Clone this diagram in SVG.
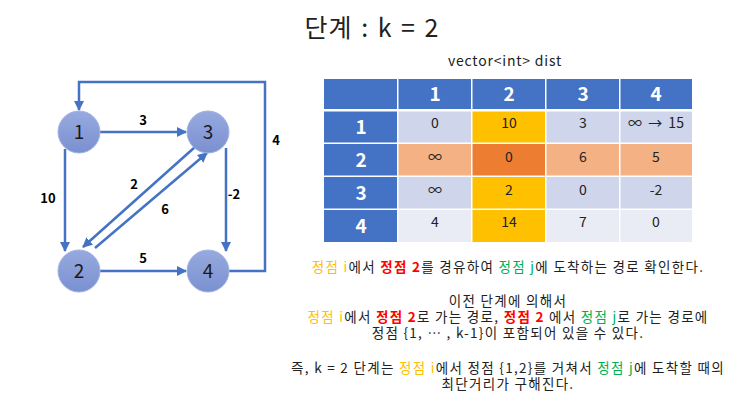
<svg xmlns="http://www.w3.org/2000/svg" width="743" height="418" viewBox="0 0 743 418">
<defs>
<linearGradient id="ng" x1="0" y1="0" x2="0" y2="1">
<stop offset="0" stop-color="#97AADF"/>
<stop offset="1" stop-color="#7A90D0"/>
</linearGradient>
<marker id="ah" viewBox="0 0 10 10" refX="9" refY="5" markerWidth="4" markerHeight="4" orient="auto" markerUnits="strokeWidth">
<path d="M0,0 L10,5 L0,10 z" fill="#4472C4"/>
</marker>
<style>
text{font-family:"Noto Sans CJK KR","Liberation Sans",sans-serif;}
.edge{fill:none;stroke:#4472C4;stroke-width:2.5;marker-end:url(#ah);}
.node circle{fill:url(#ng);stroke:#A3B4E2;stroke-width:1;}
.nl{font-size:19px;fill:#1a1a1a;text-anchor:middle;}
.el{font-size:13px;font-weight:bold;fill:#000;text-anchor:middle;}
.hd{fill:#4472C4;}
.ht{font-size:19px;font-weight:bold;fill:#fff;text-anchor:middle;}
.ct{font-size:14px;fill:#222;text-anchor:middle;}
.bt{font-size:13.5px;fill:#222;text-anchor:middle;letter-spacing:1.3px;}
.y{fill:#FFC000;}
.r{fill:#FF0000;font-weight:bold;}
.g{fill:#00B050;}
</style>
</defs>
<rect width="743" height="418" fill="#fff"/>
<text x="372" y="37" font-size="25" fill="#222" text-anchor="middle" letter-spacing="1" word-spacing="2">단계 : k = 2</text>

<g id="connectors">
<path class="edge" d="M100,132 H186"/>
<path class="edge" d="M65,149 V251"/>
<path class="edge" d="M226,148 V251"/>
<path class="edge" d="M100,271 H186"/>
<path class="edge" d="M195,147 L83,247"/>
<path class="edge" d="M95,248 L207,153"/>
<path class="edge" d="M229,271 H265 V82 H79 V110"/>
</g>
<g id="edge-labels">
<text class="el" x="143" y="125">3</text>
<text class="el" x="48" y="203">10</text>
<text class="el" x="234" y="199">-2</text>
<text class="el" x="276" y="145">4</text>
<text class="el" x="134" y="189">2</text>
<text class="el" x="165" y="214">6</text>
<text class="el" x="143" y="263">5</text>
</g>
<g id="node1" class="node"><circle cx="79" cy="132" r="21"/><text class="nl" x="79" y="139">1</text></g>
<g id="node3" class="node"><circle cx="208" cy="132" r="21"/><text class="nl" x="208" y="139">3</text></g>
<g id="node2" class="node"><circle cx="79" cy="271" r="21"/><text class="nl" x="79" y="278">2</text></g>
<g id="node4" class="node"><circle cx="208" cy="271" r="21"/><text class="nl" x="208" y="278">4</text></g>

<text x="505" y="66" font-size="14" fill="#222" text-anchor="middle" letter-spacing="0.8">vector&lt;int&gt; dist</text>

<g id="table">
<rect x="324" y="79" width="368" height="163" fill="#fff"/>
<rect class="hd" x="324" y="79" width="73" height="30"/>
<rect class="hd" x="398.5" y="79" width="72.5" height="30"/>
<rect class="hd" x="472.5" y="79" width="72.5" height="30"/>
<rect class="hd" x="546.5" y="79" width="72.5" height="30"/>
<rect class="hd" x="620.5" y="79" width="71.5" height="30"/>
<rect class="hd" x="324" y="111.5" width="73" height="31"/>
<rect class="hd" x="324" y="144" width="73" height="31.5"/>
<rect class="hd" x="324" y="177" width="73" height="31.5"/>
<rect class="hd" x="324" y="210" width="73" height="32"/>
<rect x="398.5" y="111.5" width="72.5" height="31" fill="#CFD5EA"/>
<rect x="472.5" y="111.5" width="72.5" height="31" fill="#FFC000"/>
<rect x="546.5" y="111.5" width="72.5" height="31" fill="#CFD5EA"/>
<rect x="620.5" y="111.5" width="71.5" height="31" fill="#CFD5EA"/>
<rect x="398.5" y="144" width="72.5" height="31.5" fill="#F4B183"/>
<rect x="472.5" y="144" width="72.5" height="31.5" fill="#ED7D31"/>
<rect x="546.5" y="144" width="72.5" height="31.5" fill="#F4B183"/>
<rect x="620.5" y="144" width="71.5" height="31.5" fill="#F4B183"/>
<rect x="398.5" y="177" width="72.5" height="31.5" fill="#CFD5EA"/>
<rect x="472.5" y="177" width="72.5" height="31.5" fill="#FFC000"/>
<rect x="546.5" y="177" width="72.5" height="31.5" fill="#CFD5EA"/>
<rect x="620.5" y="177" width="71.5" height="31.5" fill="#CFD5EA"/>
<rect x="398.5" y="210" width="72.5" height="32" fill="#E9EBF5"/>
<rect x="472.5" y="210" width="72.5" height="32" fill="#FFC000"/>
<rect x="546.5" y="210" width="72.5" height="32" fill="#E9EBF5"/>
<rect x="620.5" y="210" width="71.5" height="32" fill="#E9EBF5"/>

<text class="ht" x="435" y="101">1</text>
<text class="ht" x="509" y="101">2</text>
<text class="ht" x="583" y="101">3</text>
<text class="ht" x="656" y="101">4</text>
<text class="ht" x="361" y="134">1</text>
<text class="ht" x="361" y="167">2</text>
<text class="ht" x="361" y="200">3</text>
<text class="ht" x="361" y="233">4</text>

<text class="ct" x="435" y="128">0</text>
<text class="ct" x="509" y="128">10</text>
<text class="ct" x="583" y="128">3</text>
<text class="ct" x="656" y="128" word-spacing="3">∞ → 15</text>
<text class="ct" x="435" y="162">∞</text>
<text class="ct" x="509" y="162">0</text>
<text class="ct" x="583" y="162">6</text>
<text class="ct" x="656" y="162">5</text>
<text class="ct" x="435" y="195">∞</text>
<text class="ct" x="509" y="195">2</text>
<text class="ct" x="583" y="195">0</text>
<text class="ct" x="656" y="195">-2</text>
<text class="ct" x="435" y="227">4</text>
<text class="ct" x="509" y="227">14</text>
<text class="ct" x="583" y="227">7</text>
<text class="ct" x="656" y="227">0</text>
</g>

<g id="notes">
<text class="bt" x="508" y="272"><tspan class="y">정점 i</tspan>에서 <tspan class="r">정점 2</tspan>를 경유하여 <tspan class="g">정점 j</tspan>에 도착하는 경로 확인한다.</text>
<text class="bt" x="508" y="306">이전 단계에 의해서</text>
<text class="bt" x="508" y="322"><tspan class="y">정점 i</tspan>에서 <tspan class="r">정점 2</tspan>로 가는 경로, <tspan class="r">정점 2</tspan> 에서 <tspan class="g">정점 j</tspan>로 가는 경로에</text>
<text class="bt" x="508" y="338">정점 {1, … , k-1}이 포함되어 있을 수 있다.</text>
<text class="bt" x="508" y="373">즉, k = 2 단계는 <tspan class="y">정점 i</tspan>에서 정점 {1,2}를 거쳐서 <tspan class="g">정점 j</tspan>에 도착할 때의</text>
<text class="bt" x="508" y="389">최단거리가 구해진다.</text>
</g>
</svg>
